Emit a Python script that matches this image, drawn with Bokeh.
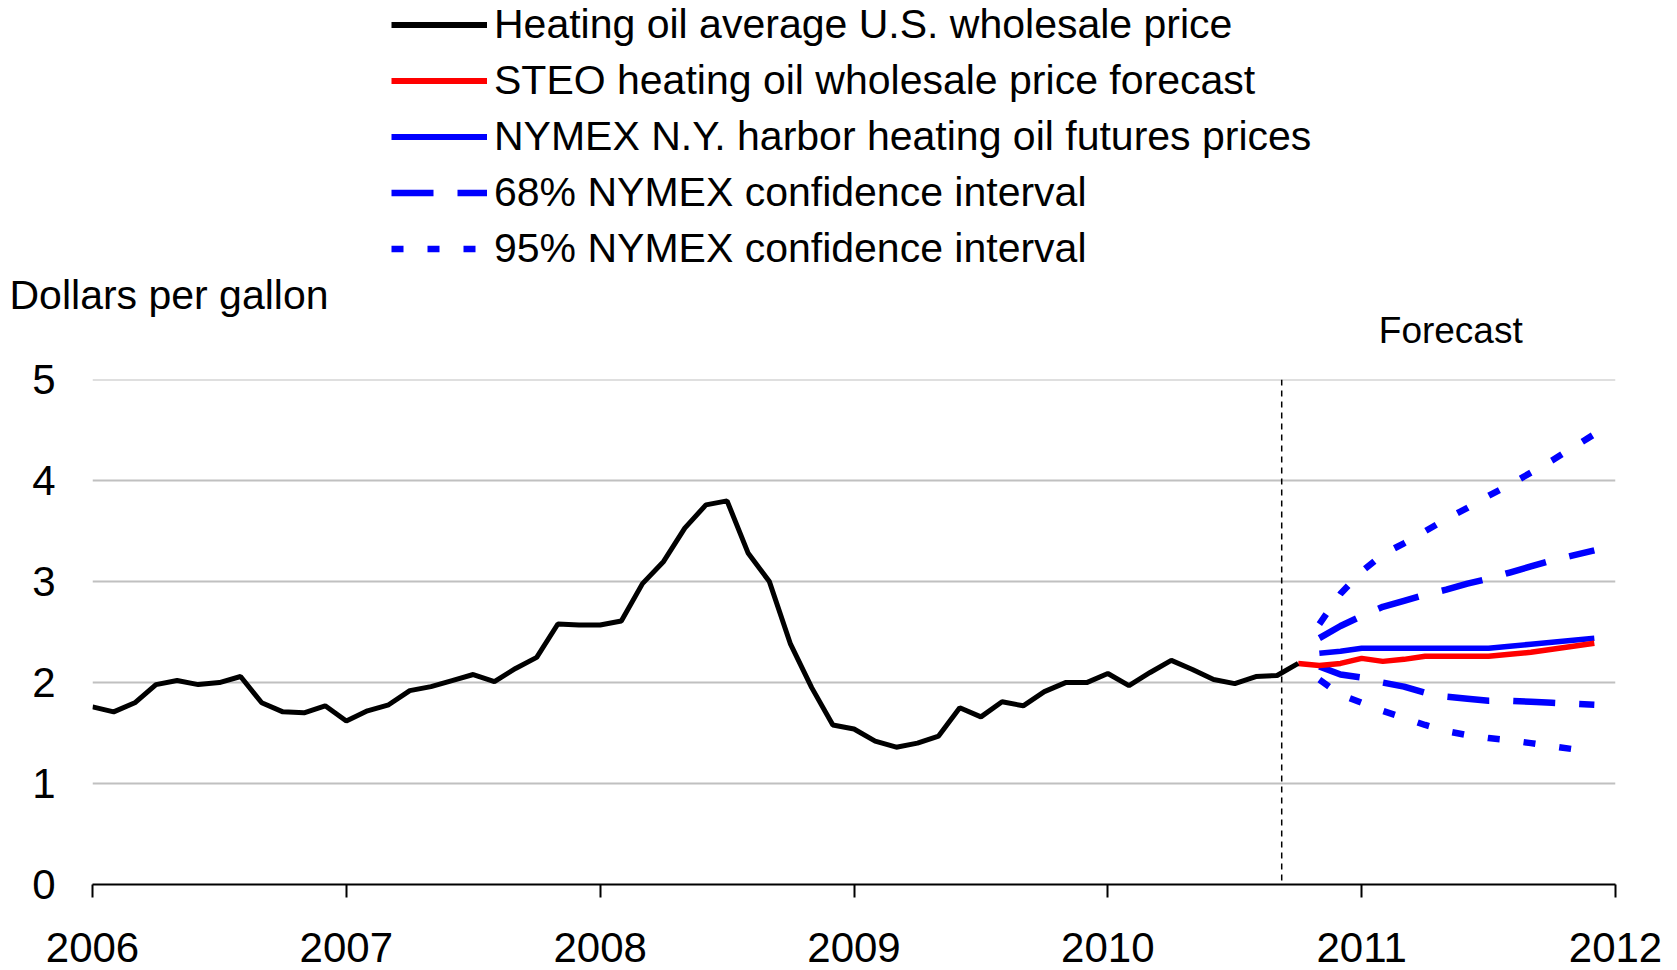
from bokeh.plotting import figure
from bokeh.layouts import column
from bokeh.models import Range1d, FixedTicker, Legend, LegendItem, Label, Span
from bokeh.embed import file_html
from bokeh.resources import INLINE

# ---------------- data ----------------
start_year = 2006
hist_prices = [
    1.76, 1.71, 1.80, 1.98, 2.02, 1.98, 2.00, 2.06, 1.80, 1.71, 1.70, 1.77,   # 2006
    1.62, 1.72, 1.78, 1.92, 1.96, 2.02, 2.08, 2.01, 2.14, 2.25, 2.58, 2.57,   # 2007
    2.57, 2.61, 2.98, 3.20, 3.53, 3.76, 3.80, 3.28, 3.00, 2.38, 1.95, 1.58,   # 2008
    1.54, 1.42, 1.36, 1.40, 1.47, 1.75, 1.66, 1.81, 1.77, 1.91, 2.00, 2.00,   # 2009
    2.09, 1.97, 2.10, 2.22, 2.13, 2.03, 1.99, 2.06, 2.07, 2.19,               # 2010 Jan-Oct
]
steo_forecast = [2.19, 2.17, 2.19, 2.24, 2.21, 2.23, 2.26, 2.26, 2.26, 2.26,
                 2.28, 2.30, 2.33, 2.36, 2.39]                                 # Oct 2010 - Dec 2011
nymex_futures = [2.29, 2.31, 2.34, 2.34, 2.34, 2.34, 2.34, 2.34, 2.34, 2.36,
                 2.38, 2.40, 2.42, 2.44]                                       # Nov 2010 - Dec 2011
ci68_upper = [2.44, 2.56, 2.66, 2.75, 2.81, 2.87, 2.92, 2.98, 3.03, 3.09, 3.15, 3.21, 3.26, 3.31]
ci68_lower = [2.16, 2.08, 2.05, 2.00, 1.96, 1.90, 1.86, 1.84, 1.82, 1.82, 1.81, 1.80, 1.79, 1.78]
ci95_upper = [2.58, 2.88, 3.10, 3.27, 3.38, 3.50, 3.62, 3.73, 3.85, 3.96, 4.08, 4.20, 4.33, 4.46]
ci95_lower = [2.03, 1.88, 1.80, 1.72, 1.65, 1.58, 1.52, 1.48, 1.45, 1.43, 1.40, 1.37, 1.34, 1.31]

year_ticks = [2006, 2007, 2008, 2009, 2010, 2011, 2012]
year_labels = ["2006", "2007", "2008", "2009", "2010", "2011", "2012"]
y_ticks = [0, 1, 2, 3, 4, 5]
forecast_start = 2010.685

series_names = [
    "Heating oil average U.S. wholesale price",
    "STEO heating oil wholesale price forecast",
    "NYMEX N.Y. harbor heating oil futures prices",
    "68% NYMEX confidence interval",
    "95% NYMEX confidence interval",
]
y_title = "Dollars per gallon"
forecast_title = "Forecast"

# monthly x positions in fractional years
hist_x = [start_year + i / 12 for i in range(len(hist_prices))]
steo_x = [hist_x[-1] + i / 12 for i in range(len(steo_forecast))]
nymex_x = [steo_x[1] + i / 12 for i in range(len(nymex_futures))]

FONT = "Liberation Sans"
BLUE = "#0000ff"
RED = "#ff0000"
DASH68 = "42 24"
DOT95 = "12 24"

series = [
    (hist_x, hist_prices, "black", "solid"),
    (steo_x, steo_forecast, RED, "solid"),
    (nymex_x, nymex_futures, BLUE, "solid"),
    (nymex_x, ci68_upper, BLUE, DASH68),
    (nymex_x, ci95_upper, BLUE, DOT95),
]

# ---------------- top panel: legend ----------------
TOP_H = 271
top = figure(width=1677, height=TOP_H, output_backend="svg", toolbar_location=None,
             x_range=Range1d(0, 1), y_range=Range1d(0, 1),
             x_axis_location=None, y_axis_location=None,
             min_border_left=0, min_border_right=0, min_border_top=0, min_border_bottom=0)
top.outline_line_color = None
top.grid.visible = False
top.background_fill_color = "white"
top.border_fill_color = "white"

legend_items = []
for name, (xs, ys, col, dash) in zip(series_names, series):
    # legend swatches only; the data lie outside this panel's ranges
    r = top.line(xs, ys, line_color=col, line_width=6 if dash == "solid" else 6.5,
                 line_dash=dash)
    legend_items.append(LegendItem(label=name, renderers=[r]))

legend = Legend(items=legend_items, location=(299, -0.5))
legend.padding = 0
legend.margin = 0
legend.spacing = 9
legend.glyph_width = 96
legend.glyph_height = 47
legend.label_height = 47
legend.label_standoff = 7
legend.label_text_font = FONT
legend.label_text_font_size = "41px"
legend.label_text_color = "black"
legend.border_line_color = None
legend.background_fill_alpha = 0
top.add_layout(legend, "center")

# ---------------- main chart ----------------
p = figure(width=1677, height=970 - TOP_H, output_backend="svg", toolbar_location=None,
           x_range=Range1d(2006, 2012), y_range=Range1d(0, 5.002),
           min_border_left=92, min_border_right=62, min_border_top=379 - TOP_H,
           min_border_bottom=86)
p.outline_line_color = None
p.background_fill_color = "white"
p.border_fill_color = "white"

p.xgrid.grid_line_color = None
p.ygrid.ticker = FixedTicker(ticks=y_ticks)
p.ygrid.grid_line_color = "#c0c0c0"
p.ygrid.grid_line_width = 2

xa = p.xaxis[0]
xa.ticker = FixedTicker(ticks=year_ticks)
xa.major_label_overrides = {t: l for t, l in zip(year_ticks, year_labels)}
xa.axis_line_color = "black"
xa.axis_line_width = 2
xa.major_tick_line_color = "black"
xa.major_tick_line_width = 2
xa.major_tick_out = 13
xa.major_tick_in = 0
xa.minor_tick_line_color = None
xa.major_label_text_font = FONT
xa.major_label_text_font_size = "42px"
xa.major_label_text_color = "black"
xa.major_label_standoff = 35

ya = p.yaxis[0]
ya.ticker = FixedTicker(ticks=y_ticks)
ya.axis_line_color = None
ya.major_tick_line_color = None
ya.minor_tick_line_color = None
ya.major_label_text_font = FONT
ya.major_label_text_font_size = "42px"
ya.major_label_text_color = "black"
ya.major_label_standoff = 31

p.line(nymex_x, ci95_upper, line_color=BLUE, line_width=6.5, line_dash=DOT95)
p.line(nymex_x, ci95_lower, line_color=BLUE, line_width=6.5, line_dash=DOT95)
p.line(nymex_x, ci68_upper, line_color=BLUE, line_width=6.5, line_dash=DASH68)
p.line(nymex_x, ci68_lower, line_color=BLUE, line_width=6.5, line_dash=DASH68)
p.line(nymex_x, nymex_futures, line_color=BLUE, line_width=5.5)
p.line(steo_x, steo_forecast, line_color=RED, line_width=5.5)
p.line(hist_x, hist_prices, line_color="black", line_width=5)

p.add_layout(Span(location=forecast_start, dimension="height", line_color="black",
                  line_width=1.5, line_dash="6 5"))

# titles above the frame (side panel so they are not clipped to the frame)
p.add_layout(Label(x=2005.673, y=5.835, text=y_title, text_font=FONT,
                   text_font_size="41px", text_align="left", text_baseline="middle",
                   text_color="black"), "above")
p.add_layout(Label(x=2011.351, y=5.485, text=forecast_title, text_font=FONT,
                   text_font_size="37px", text_align="center", text_baseline="middle",
                   text_color="black"), "above")

layout = column(top, p, spacing=0)
open("out.html", "w").write(file_html(layout, INLINE))
